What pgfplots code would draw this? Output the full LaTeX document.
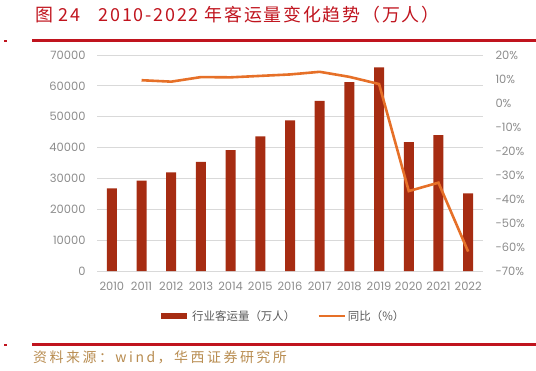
\documentclass[border=0pt]{standalone}
\usepackage{fontspec}
\setmainfont{Poppins}
\newfontfamily\cjk{Noto Sans CJK SC}
\newfontfamily\cjkt[LetterSpace=10]{Noto Sans CJK SC}
\newfontfamily\cjks[LetterSpace=18]{Noto Sans CJK SC}
\usepackage{pgfplots}
\pgfplotsset{compat=1.18}
\definecolor{barc}{RGB}{166,44,18}
\definecolor{linec}{RGB}{230,112,40}
\definecolor{titlec}{RGB}{192,20,30}
\definecolor{srcc}{RGB}{184,140,80}
\definecolor{tickc}{RGB}{140,140,140}
\definecolor{legc}{RGB}{89,89,89}
\definecolor{gridc}{RGB}{217,217,217}
\begin{document}
\begin{tikzpicture}
\useasboundingbox (0bp,0bp) rectangle (536bp,-371bp);
\node[anchor=west, text=titlec, font=\cjkt\fontsize{18}{18}\selectfont, inner sep=0] at (35bp,-15bp) {图 24\quad 2010-2022 年客运量变化趋势（万人）};
\fill[titlec] (32bp,-39bp) rectangle (536bp,-41.5bp);
\fill[titlec] (4bp,-39.5bp) rectangle (6.5bp,-42bp);
\fill[titlec] (32bp,-343bp) rectangle (536bp,-345.5bp);
\fill[titlec] (4bp,-343.5bp) rectangle (6.5bp,-346bp);
\node[anchor=west, text=srcc, font=\cjks\fontsize{14}{14}\selectfont, inner sep=0] at (33bp,-357bp) {资料来源：wind，华西证券研究所};
\begin{axis}[
  at={(97bp,-271bp)}, anchor=south west, scale only axis,
  width=386bp, height=216bp,
  xmin=-0.5, xmax=12.5, ymin=0, ymax=70000,
  ytick={0,10000,...,70000},
  xtick={0,...,12},
  xticklabels={2010,2011,2012,2013,2014,2015,2016,2017,2018,2019,2020,2021,2022},
  ymajorgrids, grid style={gridc, line width=0.9bp},
  axis line style={draw=none},
  major tick length=0,
  tick label style={font=\fontsize{11.5}{12}\selectfont, text=tickc},
  /pgf/number format/assume math mode=true,
  /pgf/number format/set thousands separator={},
  scaled y ticks=false,
  yticklabel style={xshift=-8bp},
  xticklabel style={yshift=-8bp},
]
\addplot[ybar, bar width=10bp, fill=barc, draw=none] coordinates {
(0,26769)(1,29317)(2,31936)(3,35397)(4,39195)(5,43618)(6,48796)(7,55156)(8,61174)(9,65993)(10,41778)(11,44056)(12,25171)};
\end{axis}
\begin{axis}[
  at={(97bp,-271bp)}, anchor=south west, scale only axis,
  width=386bp, height=216bp,
  xmin=-0.5, xmax=12.5, ymin=-70, ymax=20,
  ytick={-70,-60,...,20},
  axis y line*=right, hide x axis,
  y axis line style={draw=none},
  major tick length=0,
  tick label style={font=\fontsize{11.5}{12}\selectfont, text=tickc},
  /pgf/number format/assume math mode=true,
  yticklabel={\pgfmathprintnumber{\tick}\%},
  yticklabel style={xshift=9bp},
  legend style={at={(0.48,-0.208)}, anchor=center, draw=none, fill=none,
    legend columns=2, font=\cjk\fontsize{11.5}{12}\selectfont, text=legc,
    /tikz/every even column/.append style={column sep=20bp}},
  legend image code/.code={\draw[#1] (0bp,0bp) -- (26bp,0bp);},
]
\addlegendimage{barc, line width=6bp}
\addlegendentry{行业客运量（万人）}
\addplot[linec, line width=2.6bp] coordinates {
(1,9.5)(2,8.9)(3,10.8)(4,10.7)(5,11.3)(6,11.9)(7,13.0)(8,10.9)(9,7.9)(10,-36.7)(11,-33.2)(12,-61.9)};
\addlegendentry{同比（\%）}
\end{axis}
\end{tikzpicture}
\end{document}
